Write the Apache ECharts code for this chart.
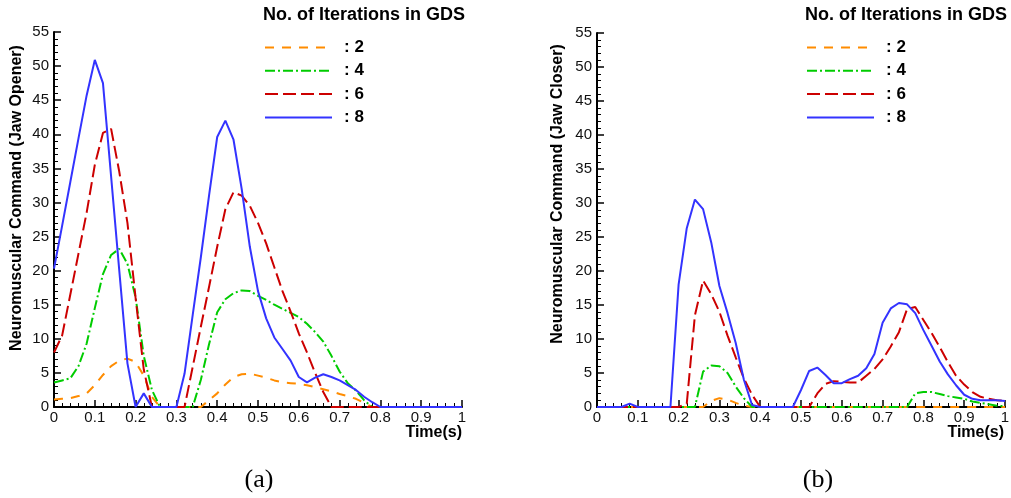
<!DOCTYPE html>
<html>
<head>
<meta charset="utf-8">
<script src="https://cdn.jsdelivr.net/npm/echarts@6/dist/echarts.min.js"></script>
<style>
html,body{margin:0;padding:0;background:#fff;}
#c{width:1011px;height:498px;}
</style>
</head>
<body>
<div id="c"></div>
<script>
// Time samples (s)
var times = [0,0.02,0.04,0.06,0.08,0.10,0.12,0.14,0.16,0.18,0.20,0.22,0.24,0.26,0.28,0.30,0.32,0.34,0.36,0.38,0.40,0.42,0.44,0.46,0.48,0.50,0.52,0.54,0.56,0.58,0.60,0.62,0.64,0.66,0.68,0.70,0.72,0.74,0.76,0.78,0.80,0.82,0.84,0.86,0.88,0.90,0.92,0.94,0.96,0.98,1.00];

var seriesNames = [': 2', ': 4', ': 6', ': 8'];
var legendTitle = 'No. of Iterations in GDS';
var yTitleA = 'Neuromuscular Command (Jaw Opener)';
var yTitleB = 'Neuromuscular Command (Jaw Closer)';
var xTitle = 'Time(s)';
var captions = ['(a)', '(b)'];

// (a) Jaw Opener
var openerIt2 = [1.1,1.2,1.3,1.6,2.0,3.2,4.7,6.0,6.8,7.1,6.6,4.6,1.5,0,0,0,0,0,0,1.0,2.0,3.3,4.4,4.8,4.9,4.6,4.3,3.9,3.6,3.5,3.4,3.2,2.9,2.6,2.3,1.9,1.6,1.2,0.6,0,0,0,0,0,0,0,0,0,0,0,0];
var openerIt4 = [3.6,3.9,4.2,6.0,9.3,14.5,19.5,22.3,23.2,21.0,16.1,7.5,2.5,0,0,0,0,0,4.0,9.2,13.9,15.8,16.7,17.1,17.0,16.3,15.7,15.0,14.4,13.8,13.2,12.2,11.0,9.6,7.5,5.2,3.5,2.4,1.0,0,0,0,0,0,0,0,0,0,0,0,0];
var openerIt6 = [8.0,10.5,16.5,22.5,28.5,35.5,40.2,40.8,34.5,27.0,16.0,5.5,0,0,0,0,0,5.9,11.8,17.6,23.5,29.0,31.5,31.0,29.5,27.0,24.0,20.5,17.0,14.0,10.8,8.0,5.0,2.2,0,0,0,0,0,0,0,0,0,0,0,0,0,0,0,0,0];
var openerIt8 = [20.3,26.6,33.0,39.4,45.7,50.9,47.5,33.8,20.0,6.4,0,2.0,0,0,0,0,4.9,13.5,22.0,31.0,39.6,42.0,39.2,32.0,23.5,17.0,13.0,10.2,8.5,6.8,4.4,3.6,4.3,4.8,4.4,3.9,3.2,2.5,1.5,0.7,0,0,0,0,0,0,0,0,0,0,0];

// (b) Jaw Closer
var closerIt2 = [0,0,0,0,0,0,0,0,0,0,0,0,0,0,0.9,1.3,1.1,0.6,0.2,0,0,0,0,0,0,0,0,0,0,0,0,0,0,0,0,0,0,0,0,0,0,0,0,0,0,0,0,0,0,0,0];
var closerIt4 = [0,0,0,0,0,0,0,0,0,0,0,0,0,5.2,6.1,6.0,5.0,3.0,1.3,0,0,0,0,0,0,0,0,0,0,0,0,0,0,0,0,0,0,0,0,2.0,2.2,2.2,1.9,1.6,1.4,1.2,0.8,0.6,0.4,0.2,0.1];
var closerIt6 = [0,0,0,0,0,0,0,0,0,0,0,0.5,13.5,18.6,16.6,14.0,10.5,7.3,4.2,1.8,0,0,0,0,0,0,0,2.0,3.4,3.8,3.7,3.6,3.6,4.6,5.6,7.0,8.9,11.0,14.4,14.7,12.8,10.9,8.8,6.6,4.6,3.3,2.2,1.5,1.2,1.0,0.9];
var closerIt8 = [0,0,0,0,0.5,0,0,0,0,0,18.0,26.3,30.5,29.1,24.2,17.8,13.8,9.4,4.0,0.3,0,0,0,0,0,2.5,5.3,5.8,4.7,3.5,3.5,4.1,4.6,5.7,7.8,12.4,14.5,15.3,15.1,13.8,11.3,9.0,6.7,4.8,3.2,1.8,1.2,1.0,1.0,1.0,0.9];

var colors = ['#ff8c00', '#00cc00', '#cc0000', '#3333ff'];
var dashes = [[9, 8], [10, 3, 2, 3], [13, 5], 'solid'];

function pairs(vals) { return times.map(function (t, i) { return [t, vals[i]]; }); }

var FONT = 'Liberation Sans, Arial, sans-serif';

function mkX(gridIdx) {
  return {
    gridIndex: gridIdx, type: 'value', min: 0, max: 1, interval: 0.1,
    axisLine: { show: true, onZero: false, lineStyle: { color: '#000', width: 2 } },
    axisTick: { show: true, inside: true, length: 7, lineStyle: { color: '#000', width: 1.5 } },
    minorTick: { show: true, splitNumber: 5, length: 4, lineStyle: { color: '#000', width: 1 } },
    splitLine: { show: false },
    axisLabel: { color: '#111', fontSize: 15, fontFamily: FONT, margin: 3 }
  };
}
function mkY(gridIdx) {
  return {
    gridIndex: gridIdx, type: 'value', min: 0, max: 55, interval: 5,
    axisLine: { show: true, lineStyle: { color: '#000', width: 2 } },
    axisTick: { show: true, inside: true, length: 7, lineStyle: { color: '#000', width: 1.5 } },
    minorTick: { show: true, splitNumber: 5, length: 4, lineStyle: { color: '#000', width: 1 } },
    splitLine: { show: false },
    axisLabel: { color: '#111', fontSize: 15, fontFamily: FONT, margin: 5 }
  };
}

var chartData = [[openerIt2, openerIt4, openerIt6, openerIt8], [closerIt2, closerIt4, closerIt6, closerIt8]];
var series = [];
chartData.forEach(function (set, g) {
  set.forEach(function (vals, k) {
    series.push({
      name: seriesNames[k], type: 'line', xAxisIndex: g, yAxisIndex: g,
      data: pairs(vals), symbol: 'none', smooth: false, animation: false,
      lineStyle: { color: colors[k], width: 2, type: dashes[k] },
      itemStyle: { color: colors[k] }, z: 2 + k
    });
  });
});

function mkLegend(left) {
  return {
    orient: 'vertical', left: left, top: 39, padding: 0, itemWidth: 67, itemHeight: 14, itemGap: 6.3,
    data: seriesNames, selectedMode: false,
    itemStyle: { opacity: 0 },
    textStyle: { color: '#000', fontSize: 17, fontWeight: 'bold', fontFamily: FONT, padding: [0, 0, 0, 7] }
  };
}

var bold16 = 'bold 16px ' + FONT;
var serif26 = '26px Liberation Serif, Times New Roman, serif';

var chart = echarts.init(document.getElementById('c'), null, { renderer: 'canvas' });
chart.setOption({
  animation: false,
  backgroundColor: '#fff',
  title: [
    { text: legendTitle, left: 263, top: 6, padding: 0, textStyle: { color: '#000', fontSize: 18, fontWeight: 'bold', fontFamily: FONT } },
    { text: legendTitle, left: 805, top: 6, padding: 0, textStyle: { color: '#000', fontSize: 18, fontWeight: 'bold', fontFamily: FONT } }
  ],
  legend: [mkLegend(264), mkLegend(806)],
  grid: [
    { left: 54, top: 32, width: 408, height: 375, outerBoundsMode: 'none' },
    { left: 597, top: 33, width: 408, height: 374, outerBoundsMode: 'none' }
  ],
  xAxis: [mkX(0), mkX(1)],
  yAxis: [mkY(0), mkY(1)],
  series: series,
  graphic: [
    { type: 'text', x: 17, y: 198, rotation: Math.PI / 2, style: { text: yTitleA, font: bold16, fill: '#000', textAlign: 'center', textVerticalAlign: 'middle', verticalAlign: 'middle' } },
    { type: 'text', x: 558, y: 194, rotation: Math.PI / 2, style: { text: yTitleB, font: bold16, fill: '#000', textAlign: 'center', textVerticalAlign: 'middle', verticalAlign: 'middle' } },
    { type: 'text', x: 462, y: 433, style: { text: xTitle, font: bold16, fill: '#000', textAlign: 'right', textVerticalAlign: 'middle', verticalAlign: 'middle' } },
    { type: 'text', x: 1004, y: 433, style: { text: xTitle, font: bold16, fill: '#000', textAlign: 'right', textVerticalAlign: 'middle', verticalAlign: 'middle' } },
    { type: 'text', x: 259, y: 480, style: { text: captions[0], font: serif26, fill: '#000', textAlign: 'center', textVerticalAlign: 'middle', verticalAlign: 'middle' } },
    { type: 'text', x: 818, y: 480, style: { text: captions[1], font: serif26, fill: '#000', textAlign: 'center', textVerticalAlign: 'middle', verticalAlign: 'middle' } }
  ]
});
</script>
</body>
</html>
